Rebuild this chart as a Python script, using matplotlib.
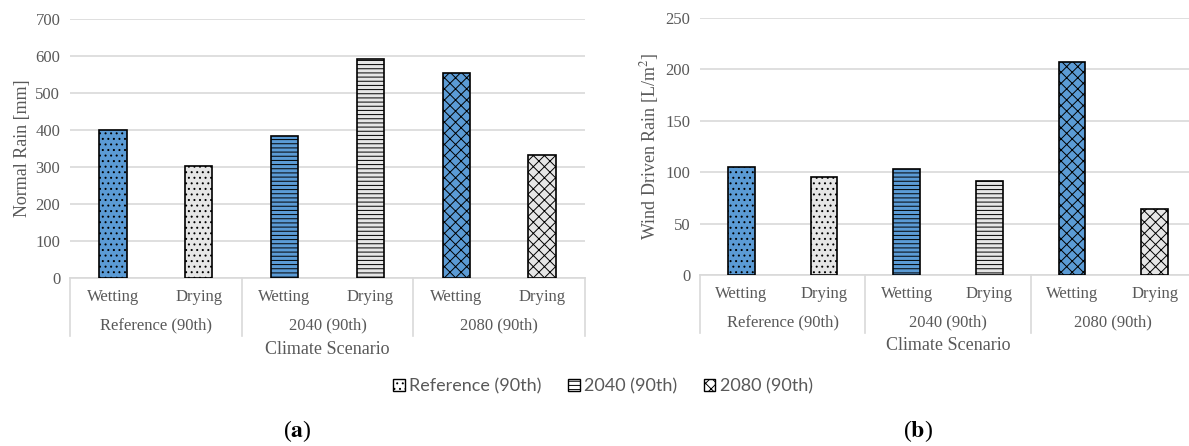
import numpy as np
import matplotlib
matplotlib.use("Agg")
import matplotlib.pyplot as plt
from matplotlib.patches import Patch
from matplotlib.transforms import blended_transform_factory

# data
groups = ['Reference (90th)', '2040 (90th)', '2080 (90th)']
phases = ['Wetting', 'Drying']
normal_rain = [400, 302, 385, 593, 553, 332]
wdr = [105, 95, 103, 91, 207, 64]
hatches = ['...', '----', 'xxx']

BLUE = '#5B9BD5'
LIGHT = '#E6E6E6'
GRID = '#D9D9D9'
TXT = '#595959'

plt.rcParams['font.family'] = ['Liberation Serif', 'DejaVu Serif']
plt.rcParams['mathtext.fontset'] = 'stix'
plt.rcParams['hatch.linewidth'] = 0.7

W, H = 1189, 446
fig = plt.figure(figsize=(W / 100, H / 100), dpi=100)


def px_axes(left, right, top, bottom):
    return fig.add_axes([left / W, 1 - bottom / H, (right - left) / W, (bottom - top) / H])


def draw_panel(ax, values, ymax, ystep, ylabel):
    x = np.arange(6) + 0.5
    for i, v in enumerate(values):
        ax.bar(x[i], v, width=0.32, color=BLUE if i % 2 == 0 else LIGHT,
               hatch=hatches[i // 2], edgecolor='black', linewidth=1.2, zorder=3)
    ax.set_xlim(0, 6)
    ax.set_ylim(0, ymax)
    ax.set_yticks(np.arange(0, ymax + 1, ystep))
    ax.yaxis.grid(True, color=GRID, linewidth=1.2, zorder=0)
    for s in ['top', 'right', 'left']:
        ax.spines[s].set_visible(False)
    ax.spines['bottom'].set_color(GRID)
    ax.spines['bottom'].set_linewidth(1.2)
    ax.tick_params(axis='y', length=0, labelsize=12, labelcolor=TXT, pad=7)
    ax.set_xticks(x)
    ax.set_xticklabels(phases * 3)
    ax.tick_params(axis='x', length=0, labelsize=12, labelcolor=TXT, pad=8)
    ax.set_ylabel(ylabel, fontsize=13, color=TXT, labelpad=3)

    # second level of the category axis
    tr = blended_transform_factory(ax.transData, ax.transAxes)
    h = ax.get_position().height * H
    for g in range(4):
        ax.plot([2 * g, 2 * g], [0, -58 / h], transform=tr, color=GRID,
                linewidth=1.2, clip_on=False)
    for g, name in enumerate(groups):
        ax.text(2 * g + 1, -47 / h, name, transform=tr, ha='center', va='center',
                fontsize=12, color=TXT)
    ax.text(3, -71 / h, 'Climate Scenario', transform=tr, ha='center', va='center',
            fontsize=13, color=TXT)


ax_a = px_axes(70, 585, 19, 278)
draw_panel(ax_a, normal_rain, 700, 100, 'Normal Rain [mm]')

ax_b = px_axes(700, 1196, 18, 275)
draw_panel(ax_b, wdr, 250, 50, r'Wind Driven Rain [L/m$^2$]')

handles = [Patch(facecolor='white', edgecolor='black', hatch=h) for h in hatches]
fig.legend(handles, groups, loc='center', bbox_to_anchor=(603 / W, 1 - 386 / H),
           ncol=3, frameon=False, handlelength=0.65, handleheight=0.65,
           handletextpad=0.25, columnspacing=1.45,
           prop={'family': 'Lato', 'size': 13}, labelcolor=TXT)

fig.text(297 / W, 1 - 431 / H, r'($\mathbf{a}$)', ha='center', va='center', fontsize=17)
fig.text(918 / W, 1 - 431 / H, r'($\mathbf{b}$)', ha='center', va='center', fontsize=17)

fig.savefig('out.png', dpi=100)
